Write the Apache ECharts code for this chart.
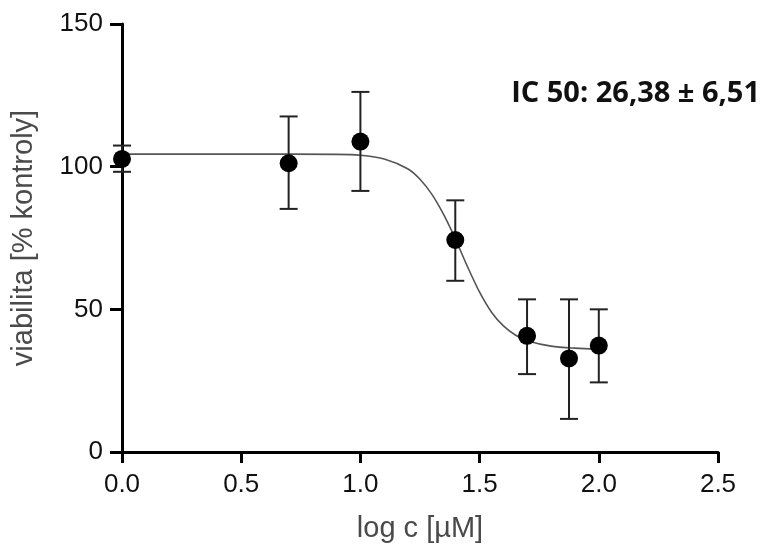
<!DOCTYPE html>
<html>
<head>
<meta charset="utf-8">
<script src="https://cdn.jsdelivr.net/npm/echarts@6/dist/echarts.min.js"></script>
<style>
  html, body { margin: 0; padding: 0; background: #fff; }
  #chart { width: 768px; height: 554px; }
</style>
</head>
<body>
<div id="chart"></div>
<script>
// Measured viability (mean, upper and lower error limits) per log concentration
const logConc = [0, 0.699, 1.0, 1.398, 1.699, 1.875, 2.0];
const viability = [102.7, 101.2, 108.8, 74.3, 40.7, 32.8, 37.3];
const errUpper = [107.4, 117.6, 126.2, 88.2, 53.5, 53.5, 50.0];
const errLower = [98.2, 85.2, 91.5, 60.0, 27.3, 11.6, 24.4];

// Fitted dose-response curve
const curveX = [0, 0.5, 0.9, 1.0, 1.1, 1.2, 1.25, 1.3, 1.35, 1.4, 1.45, 1.5, 1.55, 1.6, 1.65, 1.7, 1.8, 1.9, 2.0];
const curveY = [104.4, 104.4, 104.3, 104.0, 102.7, 99.2, 95.6, 90.3, 83.1, 74.4, 64.8, 56.0, 49.0, 44.2, 41.0, 39.0, 37.1, 36.4, 36.1];

// Axis ticks
const xTicks = [0, 0.5, 1.0, 1.5, 2.0, 2.5];
const yTicks = [0, 50, 100, 150];

const icLabel = 'IC 50: 26,38 \u00B1 6,51';

const chart = echarts.init(document.getElementById('chart'));

const points = logConc.map((x, i) => [x, viability[i]]);
const errors = logConc.map((x, i) => [x, errLower[i], errUpper[i]]);
const curve = curveX.map((x, i) => [x, curveY[i]]);

const sans = 'Liberation Sans, Arial, sans-serif';
const tickFont = { fontFamily: sans, fontSize: 26, color: '#111' };
const nameFont = { fontFamily: sans, fontSize: 29, color: '#4a4a4a' };

chart.setOption({
  animation: false,
  backgroundColor: '#fff',
  grid: { left: 122, right: 50, top: 24, bottom: 102, containLabel: false },
  xAxis: {
    type: 'value',
    min: xTicks[0],
    max: xTicks[xTicks.length - 1],
    interval: 0.5,
    name: 'log c [\u00B5M]',
    nameLocation: 'middle',
    nameGap: 62,
    nameTextStyle: nameFont,
    axisLine: { show: true, lineStyle: { color: '#000', width: 3 } },
    axisTick: { show: true, inside: false, length: 11, lineStyle: { color: '#000', width: 3 } },
    axisLabel: Object.assign({ margin: 20, formatter: v => v.toFixed(1) }, tickFont),
    splitLine: { show: false }
  },
  yAxis: {
    type: 'value',
    min: yTicks[0],
    max: yTicks[yTicks.length - 1],
    interval: 50,
    name: 'viabilita [% kontroly]',
    nameLocation: 'middle',
    nameGap: 84,
    nameRotate: 90,
    nameTextStyle: nameFont,
    axisLine: { show: true, lineStyle: { color: '#000', width: 3 } },
    axisTick: { show: true, inside: false, length: 12, lineStyle: { color: '#000', width: 3 } },
    axisLabel: Object.assign({ margin: 19 }, tickFont),
    splitLine: { show: false }
  },
  series: [
    {
      name: 'fit',
      type: 'line',
      data: curve,
      smooth: 0.3,
      showSymbol: false,
      lineStyle: { color: '#555', width: 1.6 },
      z: 2
    },
    {
      name: 'error',
      type: 'custom',
      data: errors,
      z: 3,
      renderItem: function (params, api) {
        const x = api.value(0);
        const lo = api.coord([x, api.value(1)]);
        const hi = api.coord([x, api.value(2)]);
        const half = 9;
        const style = { stroke: '#222', lineWidth: 2 };
        return {
          type: 'group',
          children: [
            { type: 'line', shape: { x1: lo[0], y1: lo[1], x2: hi[0], y2: hi[1] }, style },
            { type: 'line', shape: { x1: hi[0] - half, y1: hi[1], x2: hi[0] + half, y2: hi[1] }, style },
            { type: 'line', shape: { x1: lo[0] - half, y1: lo[1], x2: lo[0] + half, y2: lo[1] }, style }
          ]
        };
      }
    },
    {
      name: 'viabilita',
      type: 'scatter',
      data: points,
      symbol: 'circle',
      symbolSize: 18,
      itemStyle: { color: '#000', opacity: 1 },
      z: 4
    }
  ],
  graphic: [
    {
      type: 'text',
      right: 8,
      top: 79,
      style: {
        text: icLabel,
        fontFamily: 'Open Sans, Liberation Sans, sans-serif',
        fontWeight: 'bold',
        fontSize: 29,
        fill: '#111'
      }
    }
  ]
});
</script>
</body>
</html>
